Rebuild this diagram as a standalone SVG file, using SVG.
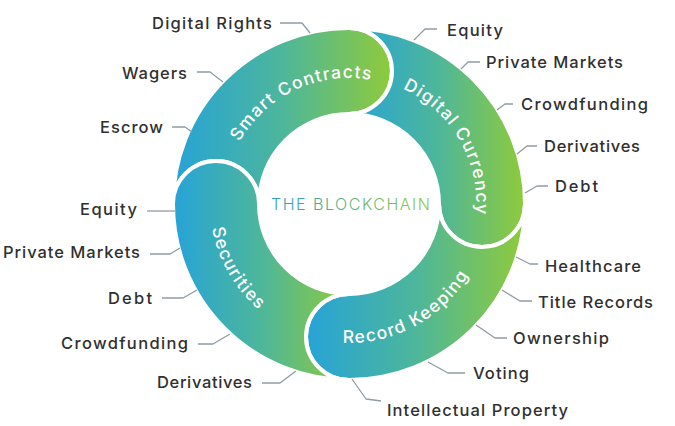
<svg xmlns="http://www.w3.org/2000/svg" xmlns:xlink="http://www.w3.org/1999/xlink" width="675" height="426" viewBox="0 0 675 426">
<style>
.seg{stroke:#fff;stroke-width:4;stroke-linejoin:round;fill:url(#g)}
.lbl{font-family:Inter,"Open Sans","Liberation Sans",sans-serif;font-size:16.5px;font-weight:450;fill:#303030}
.ring{font-family:Inter,"Open Sans","Liberation Sans",sans-serif;font-size:17.5px;font-weight:450;fill:#fff;letter-spacing:1.3px}
.ld{fill:none;stroke:#8e9ca4;stroke-width:1.3;stroke-linejoin:round}
.title{font-family:Inter,"Open Sans","Liberation Sans",sans-serif;font-weight:350;font-size:16px;letter-spacing:1px;fill:url(#tg)}
</style>
<defs>
<linearGradient id="g" x1="0" y1="0" x2="1" y2="0">
<stop offset="0" stop-color="#26a3d8"/>
<stop offset="0.5" stop-color="#4db69b"/>
<stop offset="1" stop-color="#8fca3a"/>
</linearGradient>
<linearGradient id="tg" x1="0" y1="0" x2="1" y2="0">
<stop offset="0" stop-color="#2f9fbd"/>
<stop offset="1" stop-color="#92c83e"/>
</linearGradient>
<path id="pSC" d="M227.3,171.4 A126,126 0 0 1 402.2,89.8"/>
<path id="pDC" d="M371,78.9 A126,126 0 0 1 468.3,247.4"/>
<path id="pRK" d="M298.1,333.3 A139,139 0 0 0 485.2,231.7"/>
<path id="pSE" d="M218.4,156.5 A139,139 0 0 0 324.9,340.9"/>
</defs>
<rect width="675" height="426" fill="#fff"/>

<g id="smart-contracts">
<path class="seg" d="M173,204 A176,176 0 0 1 349,28 A43,43 0 0 1 349,114 A90,90 0 0 0 259,204 A43,43 0 0 0 173,204 Z"/>
<text class="ring"><textPath xlink:href="#pSC" href="#pSC" startOffset="50%" text-anchor="middle">Smart Contracts</textPath></text>
</g>
<g id="digital-currency">
<path class="seg" d="M349,28 A176,176 0 0 1 525,204 A43,43 0 0 1 439,204 A90,90 0 0 0 349,114 A43,43 0 0 0 349,28 Z"/>
<text class="ring"><textPath xlink:href="#pDC" href="#pDC" startOffset="50%" text-anchor="middle">Digital Currency</textPath></text>
</g>
<g id="record-keeping">
<path class="seg" d="M525,204 A176,176 0 0 1 349,380 A43,43 0 0 1 349,294 A90,90 0 0 0 439,204 A43,43 0 0 0 525,204 Z"/>
<text class="ring"><textPath xlink:href="#pRK" href="#pRK" startOffset="50%" text-anchor="middle">Record Keeping</textPath></text>
</g>
<g id="securities">
<path class="seg" d="M349,380 A176,176 0 0 1 173,204 A43,43 0 0 1 259,204 A90,90 0 0 0 349,294 A43,43 0 0 0 349,380 Z"/>
<text class="ring"><textPath xlink:href="#pSE" href="#pSE" startOffset="50%" text-anchor="middle">Securities</textPath></text>
</g>
<g id="center">
<text class="title" x="351" y="210" text-anchor="middle" textLength="160">THE BLOCKCHAIN</text>
</g>

<g id="connectors">
<polyline class="ld" points="280,23 302,23 310,33"/>
<polyline class="ld" points="197,72 210,72 223,82"/>
<polyline class="ld" points="172,127 185,127 192,132"/>
<polyline class="ld" points="437,29 425,29 414,40"/>
<polyline class="ld" points="480,62 468,62 461,69"/>
<polyline class="ld" points="513,104 505,104 497,110"/>
<polyline class="ld" points="537,146 527,146 517,154"/>
<polyline class="ld" points="548,186 537,186 525,193"/>
<polyline class="ld" points="147,211 175,211"/>
<polyline class="ld" points="150,254 170,254 180,248"/>
<polyline class="ld" points="162,298 183,298 197,290"/>
<polyline class="ld" points="198,344 213,344 230,334"/>
<polyline class="ld" points="262,383 280,383 296,371"/>
<polyline class="ld" points="538,264 530,264 516,257"/>
<polyline class="ld" points="532,301 520,301 502,290"/>
<polyline class="ld" points="507,338 495,338 476,325"/>
<polyline class="ld" points="465,373 448,373 428,362"/>
<polyline class="ld" points="352,379 366,399 381,401"/>
</g>

<g id="labels-smart-contracts">
<text class="lbl" x="152" y="29" textLength="120">Digital Rights</text>
<text class="lbl" x="122" y="79" textLength="65">Wagers</text>
<text class="lbl" x="100" y="133" textLength="63">Escrow</text>
</g>
<g id="labels-digital-currency">
<text class="lbl" x="447" y="36" textLength="56">Equity</text>
<text class="lbl" x="486" y="68" textLength="137">Private Markets</text>
<text class="lbl" x="521" y="110" textLength="127">Crowdfunding</text>
<text class="lbl" x="544" y="152" textLength="96">Derivatives</text>
<text class="lbl" x="555" y="192" textLength="43">Debt</text>
</g>
<g id="labels-securities">
<text class="lbl" x="80" y="215" textLength="57">Equity</text>
<text class="lbl" x="3" y="258" textLength="137">Private Markets</text>
<text class="lbl" x="108" y="304" textLength="44">Debt</text>
<text class="lbl" x="61" y="349" textLength="127">Crowdfunding</text>
<text class="lbl" x="157" y="388" textLength="95">Derivatives</text>
</g>
<g id="labels-record-keeping">
<text class="lbl" x="545" y="272" textLength="96">Healthcare</text>
<text class="lbl" x="538" y="308" textLength="115">Title Records</text>
<text class="lbl" x="513" y="344" textLength="96">Ownership</text>
<text class="lbl" x="473" y="379" textLength="56">Voting</text>
<text class="lbl" x="387" y="416" textLength="181">Intellectual Property</text>
</g>
</svg>
